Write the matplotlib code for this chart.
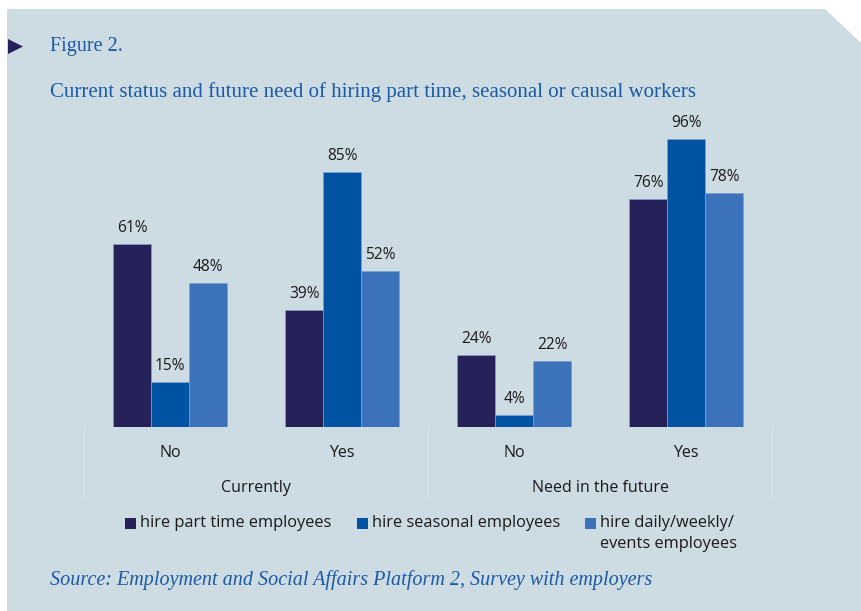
import numpy as np
import matplotlib
matplotlib.use('Agg')
import matplotlib.pyplot as plt
from matplotlib.patches import Polygon, Rectangle

# data
categories = ['No', 'Yes', 'No', 'Yes']
groups = ['Currently', 'Need in the future']
series_names = ['hire part time employees', 'hire seasonal employees',
                'hire daily/weekly/\nevents employees']
part_time = [61, 39, 24, 76]
seasonal = [15, 85, 4, 96]
daily = [48, 52, 22, 78]

colors = ['#27215a', '#0052a2', '#3b72ba']
bg = '#cddbe3'
title_blue = '#1b5aa6'
txt = '#1a1a1a'

W, H = 861, 611
fig = plt.figure(figsize=(W / 100, H / 100), dpi=100)
fig.patch.set_facecolor('white')

def fx(px):
    return px / W

def fy(py):
    return 1 - py / H

# background panel with cut corner
panel = Polygon([(fx(7), fy(9)), (fx(825), fy(9)), (fx(861), fy(43)),
                 (fx(861), fy(611)), (fx(7), fy(611))],
                closed=True, transform=fig.transFigure, facecolor=bg,
                edgecolor='none', zorder=-5)
fig.patches.append(panel)

# triangle marker
tri = Polygon([(fx(8), fy(39)), (fx(23), fy(46.5)), (fx(8), fy(54))],
              closed=True, transform=fig.transFigure, facecolor='#27215a',
              edgecolor='none', zorder=1)
fig.patches.append(tri)

serif = ['Liberation Serif', 'DejaVu Serif']
fig.text(fx(50), fy(47), 'Figure 2.', fontsize=14.5, color=title_blue,
         family=serif, va='center', ha='left')
fig.text(fx(50), fy(92), 'Current status and future need of hiring part time, seasonal or causal workers',
         fontsize=15, color=title_blue, family=serif, va='center', ha='left')

plt.rcParams['font.family'] = ['Open Sans', 'DejaVu Sans']

ax = fig.add_axes([fx(84), fy(427), (772 - 84) / W, 300 / H])
ax.set_facecolor('none')
ax.set_zorder(2)
ax.set_xlim(-0.5, 3.5)
ax.set_ylim(0, 100)

x = np.arange(len(categories))
w = 38 / 172
for i, (vals, c) in enumerate(zip([part_time, seasonal, daily], colors)):
    xs = x + (i - 1) * w
    ax.bar(xs, vals, width=w, color=c, edgecolor='#7f9fcf',
           linewidth=0.5, zorder=2)
    for xi, v in zip(xs, vals):
        ax.annotate('%d%%' % v, (xi, v), xytext=(0, 6),
                    textcoords='offset points', ha='center', va='bottom',
                    fontsize=11.2, color=txt)

for s in ax.spines.values():
    s.set_visible(False)
ax.set_yticks([])
ax.set_xticks(x)
ax.set_xticklabels(categories, fontsize=11.5, color=txt)
ax.tick_params(axis='x', length=0, pad=13)

line_c = '#d9e3ea'
ax.axhline(0, color=line_c, linewidth=1, zorder=1)
tr = ax.get_xaxis_transform()
for xv in [-0.5, 1.5, 3.5]:
    ax.plot([xv, xv], [0, -70 / 300], color=line_c, linewidth=1,
            transform=tr, clip_on=False)
for gi, g in enumerate(groups):
    ax.text(gi * 2 + 0.5, -61 / 300, g, transform=tr, ha='center',
            va='center', fontsize=11.5, color=txt)

# legend
leg_x = [125, 357, 585]
for lx, name, c in zip(leg_x, series_names, colors):
    fig.patches.append(Rectangle((fx(lx), fy(529)), 11 / W, 11 / H,
                                 transform=fig.transFigure, facecolor=c,
                                 edgecolor='none', zorder=1))
    fig.text(fx(lx + 15), fy(515), name, fontsize=11.8, color=txt,
             va='top', ha='left', linespacing=1.4)

fig.text(fx(50), fy(580), 'Source: Employment and Social Affairs Platform 2, Survey with employers',
         fontsize=14.5, color=title_blue, family=serif, style='italic',
         va='center', ha='left')

fig.savefig('out.png', dpi=100, facecolor='white')
